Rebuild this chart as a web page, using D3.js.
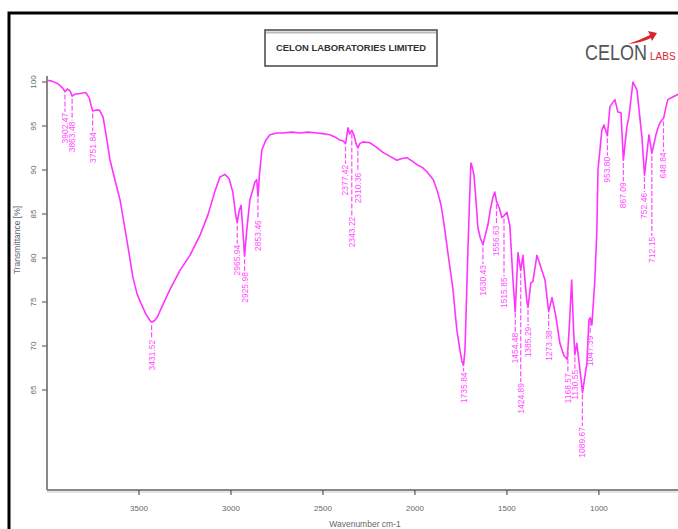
<!DOCTYPE html>
<html lang="en">
<head>
    <meta charset="UTF-8">
    <title>IR spectrum</title>
    <script src="https://cdn.jsdelivr.net/npm/d3@7/dist/d3.min.js"></script>
    <style>
        body { margin: 0; background: #fff; }
        svg { display: block; font-family: "Liberation Sans", Arial, sans-serif; }
        .tick-label { fill: #666; font-size: 8px; }
        .peak-label { fill: #ff4dff; font-size: 8.5px; }
    </style>
</head>
<body>
<div id="chartArea"></div>
<script>
    'use strict';

    // Spectrum (wavenumber cm-1 / transmittance %)
    const waves = [4000, 3973, 3940, 3915, 3902, 3890, 3875, 3863, 3850, 3820, 3790, 3770, 3760, 3751, 3735, 3715,
        3695, 3675, 3658, 3630, 3603, 3580, 3560, 3533, 3510, 3490, 3462, 3440, 3431, 3415, 3400, 3370, 3332, 3277,
        3223, 3168, 3125, 3087, 3060, 3033, 3010, 2990, 2975, 2966, 2955, 2945, 2935, 2926, 2915, 2897, 2870, 2860,
        2853, 2845, 2832, 2810, 2788, 2750, 2717, 2670, 2625, 2580, 2533, 2490, 2462, 2430, 2408, 2390, 2377, 2370,
        2364, 2355, 2343, 2332, 2320, 2310, 2300, 2283, 2245, 2210, 2174, 2140, 2098, 2070, 2043, 2015, 1989, 1960,
        1935, 1900, 1880, 1860, 1848, 1835, 1821, 1807, 1793, 1780, 1772, 1755, 1745, 1736, 1728, 1723, 1712, 1704,
        1696, 1688, 1679, 1668, 1658, 1645, 1630, 1620, 1603, 1590, 1576, 1566, 1556, 1540, 1528, 1516, 1500, 1484,
        1467, 1455, 1440, 1425, 1413, 1400, 1391, 1385, 1370, 1359, 1337, 1310, 1293, 1273, 1255, 1235, 1212, 1190,
        1172, 1160, 1148, 1138, 1131, 1120, 1103, 1089, 1065, 1054, 1047, 1038, 1022, 1011, 1005, 984, 973, 962,
        954, 945, 940, 913, 897, 880, 867, 848, 837, 815, 793, 766, 752, 728, 712, 690, 674, 660, 648, 635, 625,
        598, 570];
    const trans = [100.2, 100.1, 99.8, 99.3, 98.9, 99.2, 99.0, 98.4, 98.6, 98.7, 98.8, 98.2, 97.3, 96.7, 96.8, 96.8,
        96.0, 93.5, 91.2, 88.8, 86.6, 83.8, 81.3, 77.8, 75.9, 74.9, 73.6, 72.9, 72.7, 72.9, 73.3, 74.7, 76.4, 78.6,
        80.3, 82.6, 84.9, 87.6, 89.2, 89.5, 89.0, 87.5, 85.0, 84.0, 85.4, 86.0, 83.0, 80.2, 83.0, 86.6, 88.6, 88.9,
        87.0, 89.5, 92.3, 93.4, 94.0, 94.2, 94.2, 94.3, 94.2, 94.3, 94.2, 94.1, 94.0, 93.7, 93.4, 93.3, 93.0, 93.9,
        94.8, 94.1, 94.5, 94.0, 93.0, 92.5, 93.0, 93.2, 93.1, 92.6, 92.0, 91.6, 91.1, 91.3, 91.4, 91.0, 90.6, 90.3,
        89.8, 88.9, 87.7, 86.2, 84.7, 82.8, 80.6, 78.5, 76.4, 73.5, 71.8, 69.5, 68.3, 67.8, 69.5, 73.0, 80.9, 86.0,
        90.8, 90.3, 89.4, 86.5, 83.5, 82.3, 81.5, 82.4, 83.8, 85.5, 86.9, 87.5, 86.4, 85.6, 84.6, 84.8, 85.2, 83.7,
        77.5, 73.9, 80.6, 78.6, 80.3, 77.0, 75.0, 74.4, 77.2, 77.3, 80.3, 78.6, 77.5, 73.9, 75.5, 73.5, 70.3, 68.9,
        68.5, 72.5, 77.5, 72.0, 69.0, 70.3, 67.3, 64.7, 68.1, 73.0, 73.2, 72.4, 77.5, 83.2, 90.0, 94.5, 95.1, 94.4,
        93.9, 96.0, 97.2, 98.0, 96.6, 96.5, 91.1, 94.9, 96.0, 100.0, 99.1, 93.7, 89.4, 94.0, 91.9, 94.0, 95.1, 95.6,
        95.9, 97.2, 98.0, 98.3, 98.6];

    // Peak picks and the transmittance level where each label starts
    const peakWaves = [3902.47, 3863.48, 3751.84, 3431.52, 2965.94, 2925.98, 2853.46, 2377.42, 2343.22, 2310.36,
        1735.84, 1630.43, 1556.63, 1515.85, 1454.48, 1424.89, 1385.29, 1273.38, 1168.57, 1130.55, 1089.67, 1047.39,
        953.80, 867.09, 752.46, 712.15, 648.84];
    const peakLabelAt = [96.5, 95.5, 94.3, 70.7, 81.5, 78.4, 84.3, 90.6, 84.7, 89.7,
        67.0, 79.2, 83.7, 77.8, 71.5, 65.8, 72.2, 71.8, 66.9, 67.3, 60.8, 71.2,
        91.5, 88.6, 87.4, 82.4, 92.0];

    const xTicks = [3500, 3000, 2500, 2000, 1500, 1000];
    const yTicks = [100, 95, 90, 85, 80, 75, 70, 65];

    const width = 678, height = 529;
    const plotLeft = 47, plotRight = 678, plotTop = 76, plotBottom = 490;

    const svg = d3.select('#chartArea').append('svg').attr('width', width).attr('height', height);

    // outer frame (right/bottom edges fall outside the picture)
    svg.append('path').attr('d', `M9,${height + 5}V13H${width + 5}`)
        .attr('fill', 'none').attr('stroke', '#000').attr('stroke-width', 3);

    // title box
    const box = svg.append('g');
    box.append('rect').attr('x', 265).attr('y', 30).attr('width', 172).attr('height', 36)
        .attr('fill', '#fff').attr('stroke', '#444').attr('stroke-width', 1.5);
    box.append('line').attr('x1', 266).attr('x2', 436).attr('y1', 32.5).attr('y2', 32.5)
        .attr('stroke', '#bbb').attr('stroke-width', 2);
    box.append('text').attr('x', 351).attr('y', 51).attr('text-anchor', 'middle')
        .attr('font-size', 8.5).attr('font-weight', 'bold').attr('fill', '#333')
        .attr('textLength', 150).attr('lengthAdjust', 'spacingAndGlyphs')
        .text('CELON LABORATORIES LIMITED');

    // logo
    const logo = svg.append('g');
    logo.append('text').attr('transform', 'translate(585,60) scale(1,1.2)').attr('font-size', 18)
        .attr('fill', '#555').text('CELON');
    logo.append('text').attr('x', 650).attr('y', 60).attr('font-size', 10).attr('fill', '#d9262c').text('LABS');
    logo.append('path').attr('d', 'M628,44 Q640,40 650,35 L648,31 L657,33 L652,41 L651,38 Q641,43 628,44Z')
        .attr('fill', '#d9262c');

    const x = d3.scaleLinear().domain([4000, 570]).range([plotLeft, plotRight]);
    const y = d3.scaleLinear().domain([65, 100]).range([390, 82]);

    // axes
    const axisColor = '#888';
    svg.append('line').attr('x1', plotLeft).attr('x2', plotLeft).attr('y1', plotTop).attr('y2', plotBottom)
        .attr('stroke', axisColor).attr('stroke-width', 2);
    svg.append('line').attr('x1', plotLeft).attr('x2', plotRight).attr('y1', plotBottom).attr('y2', plotBottom)
        .attr('stroke', axisColor).attr('stroke-width', 2);
    svg.append('line').attr('x1', plotLeft).attr('x2', plotRight).attr('y1', plotBottom + 2).attr('y2', plotBottom + 2)
        .attr('stroke', '#ddd').attr('stroke-width', 1.5);

    const yAxis = svg.append('g').selectAll('g').data(yTicks).enter().append('g');
    yAxis.append('line').attr('x1', plotLeft - 5).attr('x2', plotLeft)
        .attr('y1', d => y(d)).attr('y2', d => y(d)).attr('stroke', '#666').attr('stroke-width', 1.2);
    yAxis.append('text').attr('class', 'tick-label').attr('text-anchor', 'middle').attr('dy', '0.35em')
        .attr('transform', d => `translate(33,${y(d)}) rotate(-90)`).text(d => d);

    const xAxis = svg.append('g').selectAll('g').data(xTicks).enter().append('g');
    xAxis.append('line').attr('x1', d => x(d)).attr('x2', d => x(d))
        .attr('y1', plotBottom).attr('y2', plotBottom + 5).attr('stroke', '#555').attr('stroke-width', 1.2);
    xAxis.append('text').attr('class', 'tick-label').attr('text-anchor', 'middle')
        .attr('x', d => x(d)).attr('y', 511).text(d => d);

    svg.append('text').attr('text-anchor', 'middle').attr('font-size', 8.5).attr('fill', '#667')
        .attr('transform', 'translate(20,240) rotate(-90)').text('Transmittance [%]');
    svg.append('text').attr('text-anchor', 'middle').attr('font-size', 8.5).attr('fill', '#666')
        .attr('x', 365).attr('y', 527).text('Wavenumber cm-1');

    // spectrum
    const spectrum = waves.map((w, i) => [w, trans[i]]);
    const line = d3.line().x(d => x(d[0])).y(d => y(d[1]));
    svg.append('path').datum(spectrum).attr('d', line)
        .attr('fill', 'none').attr('stroke', '#ff33ff').attr('stroke-width', 1.6).attr('stroke-linejoin', 'round');

    // transmittance of the spectrum at a given wavenumber
    const bisect = d3.bisector(d => -d[0]).left;
    function valueAt(w) {
        const i = Math.max(1, Math.min(spectrum.length - 1, bisect(spectrum, -w)));
        const a = spectrum[i - 1], b = spectrum[i];
        const k = (w - a[0]) / (b[0] - a[0]);
        return a[1] + k * (b[1] - a[1]);
    }

    const peaks = svg.append('g').selectAll('g').data(peakWaves).enter().append('g');
    peaks.append('line')
        .attr('x1', d => x(d)).attr('x2', d => x(d))
        .attr('y1', d => y(valueAt(d)) + 3)
        .attr('y2', (d, i) => y(peakLabelAt[i]) - 1)
        .attr('stroke', '#ff4dff').attr('stroke-width', 1.2).attr('stroke-dasharray', '5,2');
    peaks.append('text').attr('class', 'peak-label').attr('text-anchor', 'end').attr('dy', '0.35em')
        .attr('transform', (d, i) => `translate(${x(d)},${y(peakLabelAt[i])}) rotate(-90)`)
        .text(d => d.toFixed(2));
</script>
</body>
</html>
